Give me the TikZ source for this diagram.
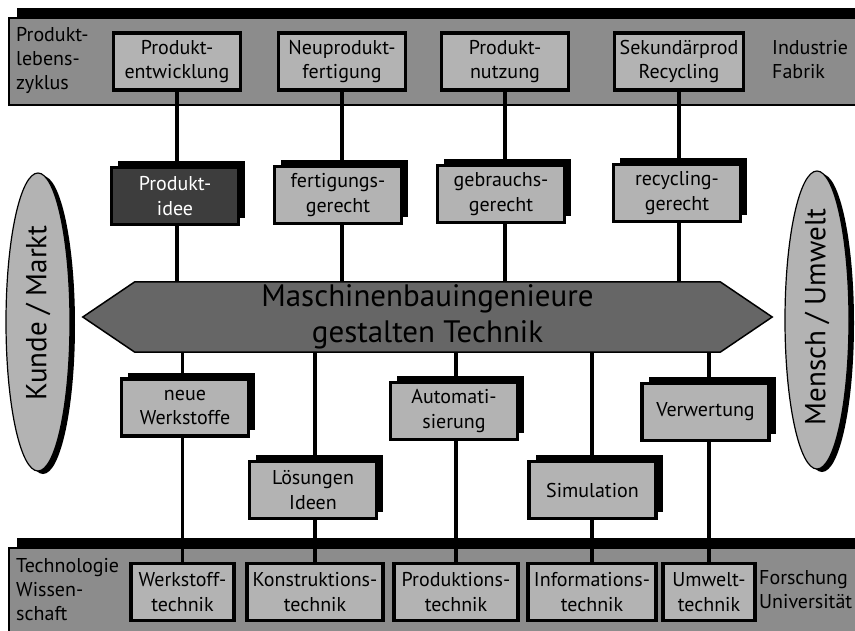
\documentclass[tikz,border=0pt]{standalone}
\usepackage{fontspec}
\setmainfont{PT Sans}
\usetikzlibrary{calc,shadows,shapes.geometric}
\definecolor{bandgray}{HTML}{8C8C8C}
\definecolor{boxgray}{HTML}{B3B3B3}
\definecolor{arrowgray}{HTML}{666666}
\definecolor{darkbox}{HTML}{3D3D3D}
\pgfdeclarelayer{bands}
\pgfdeclarelayer{lines}
\pgfsetlayers{bands,lines,main}
\begin{document}
\begin{tikzpicture}[x=1pt,y=-1pt,
  box/.style={draw=black, line width=3.5pt, fill=boxgray, minimum width=127pt, minimum height=57pt,
    inner sep=0pt, align=center, font=\fontsize{20}{24.5}\selectfont},
  sbox/.style={box, general shadow={fill=black, shadow xshift=6.5pt, shadow yshift=6.5pt}},
  conn/.style={line width=3.8pt},
  band/.style={draw=black, line width=1.5pt, fill=bandgray},
  lbl/.style={align=left, anchor=north west, inner sep=0pt, font=\fontsize{20}{24}\selectfont},
  ell/.style={ellipse, draw=black, line width=1.2pt, fill=boxgray,
    minimum width=64pt, minimum height=298pt, inner sep=0pt,
    general shadow={fill=black, shadow xshift=5pt, shadow yshift=-3pt}},
  elltext/.style={rotate=90, inner sep=0pt, font=\fontsize{29}{34}\selectfont},
]
\useasboundingbox (0,0) rectangle (855,630);

% bands
\begin{pgfonlayer}{bands}
  \fill[black] (17,8) rectangle (858,18);
  \draw[band] (9,18) rectangle (858,105);
  \fill[black] (17,538) rectangle (858,548);
  \draw[band] (9,548) rectangle (858,634);
\end{pgfonlayer}

\node[lbl] (lz) at (16,27) {Produkt-\\lebens-\\zyklus};
\node[lbl] (ind) at (772,40) {Industrie\\Fabrik};
\node[lbl] (tw) at (16,558) {Technologie\\Wissen-\\schaft};
\node[lbl] (fu) at (759,570) {Forschung\\Universität};

% top boxes
\node[box] (t1) at (177,61.5) {Produkt-\\entwicklung};
\node[box] (t2) at (342,61.5) {Neuprodukt-\\fertigung};
\node[box] (t3) at (505,61.5) {Produkt-\\nutzung};
\node[box, minimum width=129pt] (t4) at (679,61.5) {Sekundärprod\\Recycling};

% upper middle boxes
\node[sbox, fill=darkbox, text=white] (m1) at (175,196) {Produkt-\\idee};
\node[sbox] (m2) at (338,195) {fertigungs-\\gerecht};
\node[sbox] (m3) at (501,194) {gebrauchs-\\gerecht};
\node[sbox] (m4) at (677,193) {recycling-\\gerecht};

% central arrow
\node[minimum width=585pt, minimum height=70pt, inner sep=0pt] (arrow) at (427.5,317) {};
\draw[fill=arrowgray, line width=1.5pt] (arrow.north west) -- (arrow.north east)
  -- ($(arrow.east)+(52,0)$) -- (arrow.south east) -- (arrow.south west)
  -- ($(arrow.west)+(-52,0)$) -- cycle;
\node[align=center, inner sep=0pt, font=\fontsize{31}{36}\selectfont] (atext) at (arrow.center)
  {Maschinenbauingenieure\\gestalten Technik};

% ellipses
\node[ell] (km) at (38,322) {};
\node[elltext] (kmt) at (38,313) {Kunde / Markt};
\node[ell] (mu) at (817,320) {};
\node[elltext] (mut) at (817,317) {Mensch / Umwelt};

% bottom boxes
\node[box, minimum width=103pt] (b1) at (182.5,592) {Werkstoff-\\technik};
\node[box, minimum width=136pt] (b2) at (315,592) {Konstruktions-\\technik};
\node[box, minimum width=124pt] (b3) at (456,592) {Produktions-\\technik};
\node[box, minimum width=128pt] (b4) at (592,592) {Informations-\\technik};
\node[box, minimum width=92pt] (b5) at (709,592) {Umwelt-\\technik};

% lower middle boxes
\node[sbox] (l1) at (185,407.5) {neue\\Werkstoffe};
\node[sbox] (l2) at (313,490) {Lösungen\\Ideen};
\node[sbox] (l3) at (454,411) {Automati-\\sierung};
\node[sbox] (l4) at (592.5,490) {Simulation};
\node[sbox] (l5) at (705.5,412) {Verwertung};

% connectors
\begin{pgfonlayer}{lines}
  \foreach \n in {t1,t2,t3,t4}
    \draw[conn] (\n.south) -- (\n.south |- arrow.north);
  \foreach \n in {b1,b2,b3,b4,b5}
    \draw[conn] (\n.north) -- (\n.north |- arrow.south);
\end{pgfonlayer}
\end{tikzpicture}
\end{document}
